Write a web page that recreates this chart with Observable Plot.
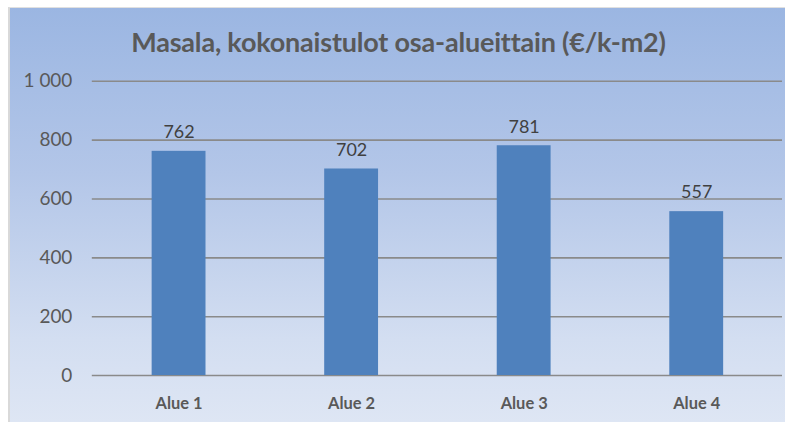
<!DOCTYPE html>
<html><head><meta charset="utf-8">
<script src="https://cdn.jsdelivr.net/npm/d3@7"></script>
<script src="https://cdn.jsdelivr.net/npm/@observablehq/plot@0.6"></script>
<style>
html,body{margin:0;padding:0;background:#fff;}
#chart{position:absolute;left:8px;top:7px;width:777px;height:415px;box-sizing:border-box;border-left:2px solid #d9d9d9;border-top:1px solid #e0e0e0;
background:linear-gradient(to bottom,#9bb6e2 0%,#b3c6e8 40%,#d3def1 80%,#dee6f4 100%);overflow:hidden;font-family:Lato,"Noto Sans",sans-serif;}
#title{position:absolute;left:0;width:777px;top:17px;text-align:center;font-weight:bold;font-size:27px;color:#595959;letter-spacing:-0.2px;}
#chart svg{position:absolute;left:0;top:0;background:transparent;}
</style></head>
<body>
<div id="chart"><div id="title">Masala, kokonaistulot osa-alueittain (€/k-m2)</div></div>
<script>
const categories = ["Alue 1","Alue 2","Alue 3","Alue 4"];
const values = [762, 702, 781, 557];
const yTicks = [0, 200, 400, 600, 800, 1000];
const yTickLabels = ["0","200","400","600","800","1 000"];

const data = categories.map((c,i)=>({cat:c, v:values[i]}));
const plot = Plot.plot({
  width: 777, height: 415,
  marginTop: 73, marginBottom: 47, marginLeft: 82, marginRight: 3,
  style: {background:"transparent", fontFamily:"Lato, 'Noto Sans', sans-serif"},
  x: {domain: categories, paddingInner: 0.69, paddingOuter: 0.345, label: null},
  y: {domain: [0,1000], label: null},
  marks: [
    Plot.ruleY(yTicks, {stroke:"#8a8a8a", strokeWidth:1.6}),
    Plot.barY(data, {x:"cat", y:"v", fill:"#4f81bd"}),
    Plot.text(data, {x:"cat", y:"v", text:d=>String(d.v), dy:-19, fill:"#404040", fontSize:18}),
    Plot.axisY({ticks: yTicks, tickSize:0, tickPadding:20, tickFormat:(d)=>yTickLabels[yTicks.indexOf(d)], fill:"#595959", fontSize:19, label:null}),
    Plot.axisX({tickSize:0, tickPadding:22, fill:"#595959", fontSize:16.5, fontWeight:"bold", label:null})
  ]
});
document.getElementById("chart").appendChild(plot);
</script>
</body></html>
